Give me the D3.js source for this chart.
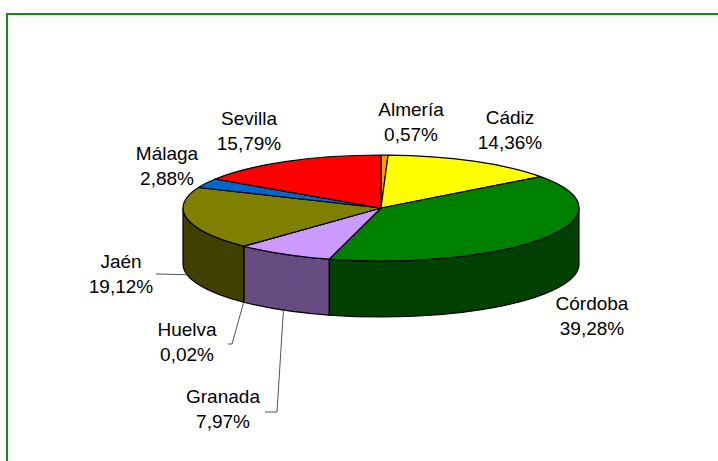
<!DOCTYPE html>
<html>
<head>
<meta charset="utf-8">
<script src="https://cdn.jsdelivr.net/npm/d3@7"></script>
<style>
  body { margin: 0; background: #fff; }
  svg { display: block; }
  text { font-family: "Liberation Sans", Arial, sans-serif; font-size: 19px; fill: #000; }
</style>
</head>
<body>
<svg width="718" height="461"></svg>
<script>
// provinces, in the order Excel draws them (clockwise from 12 o'clock)
const provinces = ["Almería", "Cádiz", "Córdoba", "Granada", "Huelva", "Jaén", "Málaga", "Sevilla"];
const shares = [0.57, 14.36, 39.28, 7.97, 0.02, 19.12, 2.88, 15.79];
const topColors = ["#ff9900", "#ffff00", "#008000", "#cc99ff", "#9999ff", "#808000", "#0066cc", "#ff0000"];
const sideColors = ["#804c00", "#808000", "#004000", "#664c80", "#4c4c80", "#404000", "#003366", "#800000"];

// label placement: text centre x, first baseline y, optional leader start / elbow
const labelPos = {
  "Almería": {x: 411, y: 116},
  "Cádiz":   {x: 510, y: 124},
  "Córdoba": {x: 592, y: 310},
  "Granada": {x: 223, y: 403, leader: [[265, 412], [277, 412]]},
  "Huelva":  {x: 187, y: 336, leader: [[228, 344], [232, 344]]},
  "Jaén":    {x: 121, y: 268, leader: [[156, 274]]},
  "Málaga":  {x: 167, y: 160},
  "Sevilla": {x: 249, y: 125}
};

var svg = d3.select("svg");

// frame
svg.append("rect")
  .attr("x", 7).attr("y", 14)
  .attr("width", 800).attr("height", 600)
  .attr("fill", "none")
  .attr("stroke", "#158c15")
  .attr("stroke-width", 2);

var cx = 381, cy = 208, rx = 198, ry = 53, depth = 56;

var data = provinces.map((p, i) => ({name: p, value: shares[i], top: topColors[i], side: sideColors[i]}));

var pie = d3.pie().sort(null).value(d => d.value);
var arcs = pie(data);

function px(a) { return cx + rx * Math.sin(a); }
function py(a) { return cy - ry * Math.cos(a); }

// side walls: only the front half (pi/2 .. 3pi/2) can be seen
var sides = svg.append("g").attr("class", "sides");
arcs.forEach(function(d) {
  var a0 = Math.max(d.startAngle, Math.PI / 2);
  var a1 = Math.min(d.endAngle, 3 * Math.PI / 2);
  if (a1 <= a0) return;
  var large = (a1 - a0) > Math.PI ? 1 : 0;
  var p = "M" + px(a0) + "," + py(a0)
    + "A" + rx + "," + ry + " 0 " + large + " 1 " + px(a1) + "," + py(a1)
    + "L" + px(a1) + "," + (py(a1) + depth)
    + "A" + rx + "," + ry + " 0 " + large + " 0 " + px(a0) + "," + (py(a0) + depth)
    + "Z";
  sides.append("path")
    .attr("d", p)
    .attr("fill", d.data.side)
    .attr("stroke", "#000")
    .attr("stroke-width", 1.2)
    .attr("stroke-linejoin", "round");
});

// top surface, drawn as a circle pie squashed into the ellipse
var arc = d3.arc().innerRadius(0).outerRadius(rx);
svg.append("g")
  .attr("transform", "translate(" + cx + "," + cy + ") scale(1," + (ry / rx) + ")")
  .selectAll("path")
  .data(arcs)
  .join("path")
  .attr("d", arc)
  .attr("fill", d => d.data.top)
  .attr("stroke", "#000")
  .attr("stroke-width", 1.2)
  .attr("vector-effect", "non-scaling-stroke")
  .attr("stroke-linejoin", "round");

// labels
var fmt = d3.format(".2f");
var labels = svg.append("g").attr("class", "labels");
arcs.forEach(function(d) {
  var pos = labelPos[d.data.name];
  if (pos.leader) {
    var mid = (d.startAngle + d.endAngle) / 2;
    var pts = pos.leader.concat([[px(mid), py(mid) + depth]]);
    labels.append("path")
      .attr("d", d3.line()(pts))
      .attr("fill", "none")
      .attr("stroke", "#555")
      .attr("stroke-width", 1);
  }
  var t = labels.append("text").attr("text-anchor", "middle");
  t.append("tspan").attr("x", pos.x).attr("y", pos.y).text(d.data.name);
  t.append("tspan").attr("x", pos.x).attr("y", pos.y + 25)
    .text(fmt(d.data.value).replace(".", ",") + "%");
});
</script>
</body>
</html>
